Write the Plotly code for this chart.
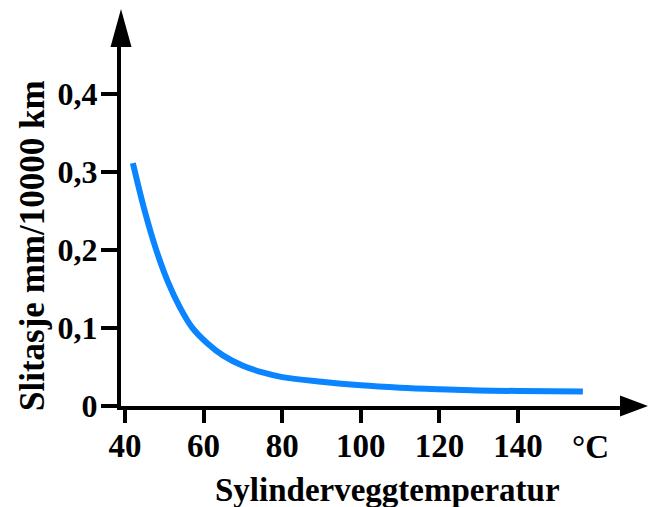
import plotly.graph_objects as go

# Data
temperature = [42, 45, 48, 51, 54, 57, 61, 65, 70, 75, 80, 90, 100, 110, 120, 130, 140, 156.5]
wear = [0.311, 0.250, 0.199, 0.158, 0.126, 0.101, 0.080, 0.0645, 0.0515, 0.043, 0.037,
        0.031, 0.0265, 0.0235, 0.0215, 0.0200, 0.0192, 0.0186]

x_ticks = [40, 60, 80, 100, 120, 140]
x_ticktext = ["40", "60", "80", "100", "120", "140"]
y_ticks = [0, 0.1, 0.2, 0.3, 0.4]
y_ticktext = ["0", "0,1", "0,2", "0,3", "0,4"]

x_title = "Sylinderveggtemperatur"
y_title = "Slitasje mm/10000 km"
unit_label = "°C"

FONT = "Liberation Serif"
L, R, T, B = 121, 28, 47, 101
W, H = 648, 507
PW, PH = W - L - R, H - T - B

fig = go.Figure()
fig.add_trace(go.Scatter(
    x=temperature, y=wear, mode="lines",
    line=dict(color="#0a84ff", width=6, shape="spline", smoothing=1.0),
    hoverinfo="skip", showlegend=False,
))

fig.update_layout(
    width=W, height=H,
    margin=dict(l=L, r=R, t=T, b=B),
    paper_bgcolor="white", plot_bgcolor="white",
    showlegend=False,
    xaxis=dict(
        range=[38.98, 165.95], showgrid=False, zeroline=False,
        showline=True, linecolor="black", linewidth=4,
        ticks="outside", ticklen=13, tickwidth=4, tickcolor="black",
        tickvals=x_ticks, ticktext=x_ticktext,
        tickfont=dict(family=FONT, size=33, color="black", weight="bold"),
        ticklabelstandoff=-6,
    ),
    yaxis=dict(
        range=[0, 0.4597], showgrid=False, zeroline=False,
        showline=True, linecolor="black", linewidth=4,
        ticks="outside", ticklen=16, tickwidth=4, tickcolor="black",
        tickvals=y_ticks, ticktext=y_ticktext,
        tickfont=dict(family=FONT, size=32, color="black", weight="bold"),
        ticklabelstandoff=-3,
    ),
)

# arrowheads
fig.add_shape(type="path", xref="paper", yref="paper",
              xsizemode="pixel", ysizemode="pixel", xanchor=0, yanchor=1,
              path="M -10.5,0 L 10.5,0 L 0,38 Z",
              fillcolor="black", line=dict(color="black", width=0))
fig.add_shape(type="path", xref="paper", yref="paper",
              xsizemode="pixel", ysizemode="pixel", xanchor=1, yanchor=0,
              path="M 0,-10.5 L 0,10.5 L 28,0 Z",
              fillcolor="black", line=dict(color="black", width=0))

# unit label
fig.add_annotation(x=(590 - L) / PW, y=-(447 - (H - B)) / PH, xref="paper", yref="paper",
                   xanchor="center", yanchor="middle",
                   text=unit_label, showarrow=False,
                   font=dict(family=FONT, size=33, color="black", weight="bold"))
# axis titles
fig.add_annotation(x=(387 - L) / PW, y=-(490 - (H - B)) / PH, xref="paper", yref="paper",
                   xanchor="center", yanchor="middle", text=x_title, showarrow=False,
                   font=dict(family=FONT, size=33, color="black", weight="bold"))
fig.add_annotation(x=-(L - 32) / PW, y=((H - B) - 246) / PH, xref="paper", yref="paper",
                   xanchor="center", yanchor="middle", textangle=-90,
                   text=y_title, showarrow=False,
                   font=dict(family=FONT, size=35, color="black", weight="bold"))

fig.write_html("out.html", config={"displayModeBar": False},
               post_script="document.body.style.margin='0';")
